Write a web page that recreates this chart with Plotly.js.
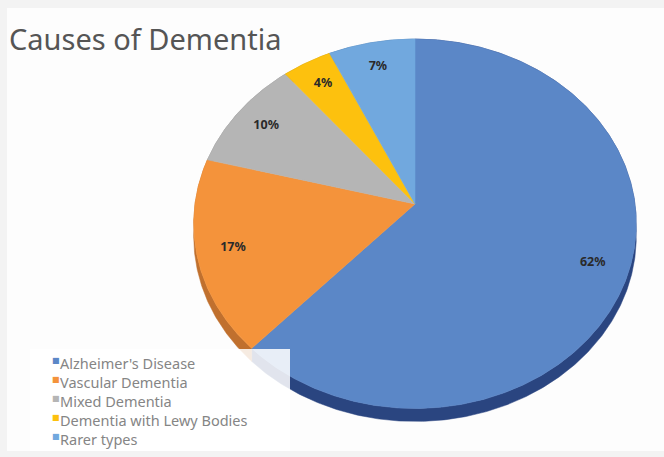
<!DOCTYPE html>
<html>
<head>
<meta charset="utf-8">
<script src="https://cdn.plot.ly/plotly-3.0.1.min.js"></script>
<style>
  html, body { margin: 0; padding: 0; background: #f3f3f3; }
  #chart { width: 664px; height: 457px; }
</style>
</head>
<body>
<div id="chart"></div>
<script>
// Causes of dementia, share of cases (%)
const categories = ["Alzheimer's Disease", "Vascular Dementia", "Mixed Dementia", "Dementia with Lewy Bodies", "Rarer types"];
const shares = [62, 17, 10, 4, 7];
const valueLabels = ["62%", "17%", "10%", "4%", "7%"];

// Slice colours: top face and darker side wall
const topColors = ["#5b87c7", "#f4933b", "#b5b5b5", "#fdc10e", "#71a8de"];
const sideColors = ["#2a4580", "#c0702e", "#888888", "#b88a00", "#3e6fa3"];

// Tilted-disc projection (pixel units on both axes)
const cx = 415, cy = 204, R = 220, tilt = 0.83, eye = 9.35 * R, depth = 13;
function project(theta, f) {
  const X = R * f * Math.sin(theta);
  const Z = R * f * Math.cos(theta);
  const s = eye / (eye + Z);
  return [cx + X * s, cy - Z * tilt * s];
}

const total = shares.reduce((a, b) => a + b, 0);
const walls = [], tops = [];
const lx = [], ly = [];
let acc = 0;
shares.forEach((v, i) => {
  const a0 = acc / total * 2 * Math.PI;
  const a1 = (acc + v) / total * 2 * Math.PI;
  acc += v;
  const n = Math.max(6, Math.ceil((a1 - a0) * 180 / Math.PI * 2));
  const arc = [];
  for (let j = 0; j <= n; j++) arc.push(project(a0 + (a1 - a0) * j / n, 1));

  // side wall: top rim followed by the rim dropped by the disc thickness
  const wx = arc.map(p => p[0]).concat(arc.slice().reverse().map(p => p[0]));
  const wy = arc.map(p => p[1]).concat(arc.slice().reverse().map(p => p[1] + depth));
  walls.push({
    type: "scatter", mode: "lines", x: wx.concat([wx[0]]), y: wy.concat([wy[0]]),
    fill: "toself", fillcolor: sideColors[i], line: { width: 0.5, color: sideColors[i] },
    hoverinfo: "skip", showlegend: false
  });

  // top face
  const tx = [cx].concat(arc.map(p => p[0]), [cx]);
  const ty = [cy].concat(arc.map(p => p[1]), [cy]);
  tops.push({
    type: "scatter", mode: "lines", x: tx, y: ty,
    fill: "toself", fillcolor: topColors[i], line: { width: 0.6, color: topColors[i] },
    hoverinfo: "skip", showlegend: false, name: categories[i]
  });

  const p = project((a0 + a1) / 2, 0.84);
  lx.push(p[0]); ly.push(p[1]);
});

const labelTrace = {
  type: "scatter", mode: "text", x: lx, y: ly, text: valueLabels,
  textposition: "middle center",
  textfont: { family: "Noto Sans, DejaVu Sans, sans-serif", size: 12.5, color: "#2a2a2a", weight: "bold" },
  hoverinfo: "skip", showlegend: false
};

// Legend rows: a small colour key raised to the cap line, then the category name
const legendTop = 363, legendStep = 19;
const legendNotes = [];
categories.forEach((c, i) => {
  const rowY = legendTop + i * legendStep;
  legendNotes.push({
    xref: "x", yref: "y", x: 50, y: rowY - 3,
    xanchor: "left", yanchor: "middle", showarrow: false,
    text: "\u25A0",
    font: { family: "DejaVu Sans, sans-serif", size: 8, color: topColors[i] }
  });
  legendNotes.push({
    xref: "x", yref: "y", x: 58, y: rowY,
    xanchor: "left", yanchor: "middle", showarrow: false, align: "left",
    text: c,
    font: { family: "Noto Sans, DejaVu Sans, sans-serif", size: 14.5, color: "#858585" }
  });
});

const layout = {
  width: 664, height: 457,
  margin: { l: 0, r: 0, t: 0, b: 0 },
  paper_bgcolor: "#f3f3f3",
  plot_bgcolor: "rgba(0,0,0,0)",
  showlegend: false,
  title: {
    text: "Causes of Dementia", x: 9 / 664, xanchor: "left", xref: "paper",
    y: 1 - 40 / 457, yanchor: "middle",
    font: { family: "Noto Sans, DejaVu Sans, sans-serif", size: 29, color: "#555555" }
  },
  xaxis: { range: [0, 664], visible: false, fixedrange: true },
  yaxis: { range: [457, 0], visible: false, fixedrange: true },
  shapes: [
    { type: "rect", xref: "x", yref: "y", x0: 7, x1: 664, y0: 8, y1: 451,
      fillcolor: "#fdfdfd", line: { width: 0 }, layer: "below" },
    { type: "rect", xref: "x", yref: "y", x0: 30, x1: 290, y0: 349, y1: 451,
      fillcolor: "rgba(255,255,255,0.86)", line: { width: 0 }, layer: "above" }
  ],
  annotations: legendNotes
};

Plotly.newPlot("chart", walls.concat(tops, [labelTrace]), layout, { staticPlot: true, displayModeBar: false });
</script>
</body>
</html>
